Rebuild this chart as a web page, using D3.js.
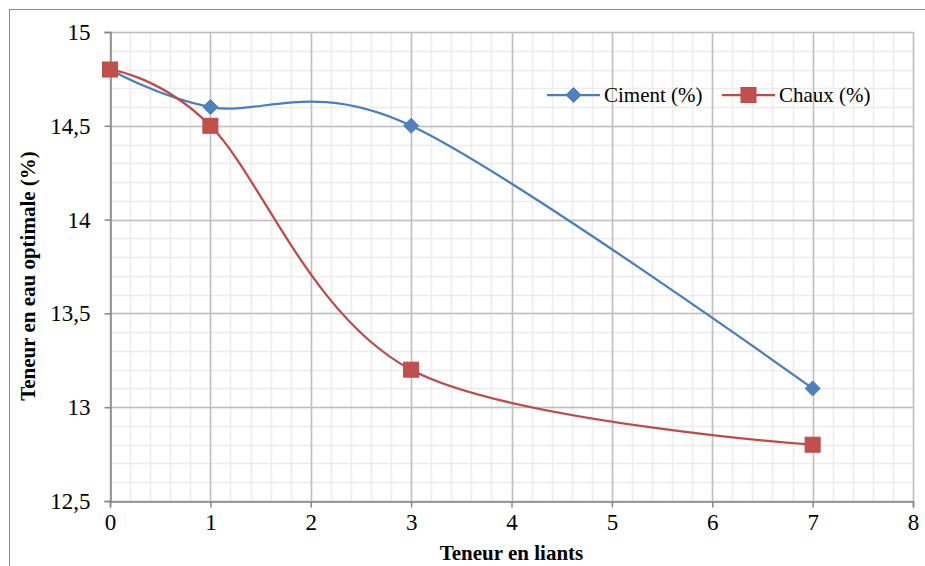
<!DOCTYPE html>
<html>
<head>
<meta charset="utf-8">
<script src="https://cdn.jsdelivr.net/npm/d3@7"></script>
<style>
  html, body { margin: 0; padding: 0; background: #fff; }
  svg { display: block; }
  svg text { font-family: "Times New Roman", "Liberation Serif", Times, serif; fill: #000; }
</style>
</head>
<body>
<svg id="chart" width="925" height="566"></svg>
<script>
// Binder content (x) and optimum water content (y)
const liants = [0, 1, 3, 7];
const ciment = [14.8, 14.6, 14.5, 13.1];
const chaux  = [14.8, 14.5, 13.2, 12.8];
const xTicks = [0, 1, 2, 3, 4, 5, 6, 7, 8];
const yTicks = [12.5, 13, 13.5, 14, 14.5, 15];
const seriesNames = ["Ciment (%)", "Chaux (%)"];

const SERIF = "\"Times New Roman\", \"Liberation Serif\", Times, serif";
const svg = d3.select("#chart");
const W = 925, H = 566;
const m = { left: 110, right: 12, top: 32, bottom: 65 };

const x = d3.scaleLinear().domain([0, 8]).range([m.left, W - m.right]);
const y = d3.scaleLinear().domain([12.5, 15]).range([H - m.bottom, m.top]);

// Outer chart frame
svg.append("rect")
  .attr("x", 9.5).attr("y", 9.5)
  .attr("width", W).attr("height", H)
  .attr("fill", "none").attr("stroke", "#8c8c8c").attr("stroke-width", 1);

const fmt = d => String(d).replace(".", ",");

// Minor grid
const gMinor = svg.append("g");
gMinor.selectAll("line.vx")
  .data(d3.range(0, 8.0001, 0.2))
  .join("line")
  .attr("x1", d => Math.round(x(d)) + 0.5).attr("x2", d => Math.round(x(d)) + 0.5)
  .attr("y1", y(12.5)).attr("y2", y(15))
  .attr("stroke", "#ececec").attr("stroke-width", 1.5);
gMinor.selectAll("line.hy")
  .data(d3.range(12.5, 15.0001, 0.1))
  .join("line")
  .attr("y1", d => Math.round(y(d)) + 0.5).attr("y2", d => Math.round(y(d)) + 0.5)
  .attr("x1", x(0)).attr("x2", x(8))
  .attr("stroke", "#ececec").attr("stroke-width", 1.5);

// Major grid
const gMajor = svg.append("g");
gMajor.selectAll("line.vx")
  .data(xTicks)
  .join("line")
  .attr("x1", d => Math.round(x(d)) + 0.5).attr("x2", d => Math.round(x(d)) + 0.5)
  .attr("y1", y(12.5)).attr("y2", y(15))
  .attr("stroke", "#bfbfbf").attr("stroke-width", 1.5);
gMajor.selectAll("line.hy")
  .data(yTicks)
  .join("line")
  .attr("y1", d => Math.round(y(d)) + 0.5).attr("y2", d => Math.round(y(d)) + 0.5)
  .attr("x1", x(0)).attr("x2", x(8))
  .attr("stroke", "#bfbfbf").attr("stroke-width", 1.5);

// Axes
const xAxis = svg.append("g")
  .attr("transform", `translate(0,${Math.round(y(12.5)) + 0.5})`)
  .call(d3.axisBottom(x).tickValues(xTicks).tickFormat(fmt).tickSize(6).tickPadding(6));
const yAxis = svg.append("g")
  .attr("transform", `translate(${Math.round(x(0)) + 0.5},0)`)
  .call(d3.axisLeft(y).tickValues(yTicks).tickFormat(fmt).tickSize(6).tickPadding(14));
[xAxis, yAxis].forEach(g => {
  g.attr("font-family", SERIF).attr("font-size", 23);
  g.select(".domain").attr("stroke", "#868686").attr("stroke-width", 1.5);
  g.selectAll(".tick line").attr("stroke", "#868686").attr("stroke-width", 1.5);
  g.selectAll(".tick text").attr("fill", "#000");
});
yAxis.selectAll(".tick text").attr("dy", "0.33em");

// Axis titles
svg.append("text")
  .attr("x", (x(0) + x(8)) / 2).attr("y", 560)
  .attr("text-anchor", "middle")
  .attr("font-family", SERIF)
  .attr("font-weight", "bold").attr("font-size", 21)
  .text("Teneur en liants");
svg.append("text")
  .attr("transform", `translate(35,${276}) rotate(-90)`)
  .attr("text-anchor", "middle")
  .attr("font-family", SERIF)
  .attr("font-weight", "bold").attr("font-size", 21)
  .text("Teneur en eau optimale (%)");

// Smoothed series lines
const line = d3.line()
  .x(d => x(d[0])).y(d => y(d[1]))
  .curve(d3.curveCardinal.tension(0));

const series = [
  { name: seriesNames[0], values: ciment, stroke: "#4a7ebb", fill: "#4f81bd", shape: "diamond" },
  { name: seriesNames[1], values: chaux,  stroke: "#be4b48", fill: "#c0504d", shape: "square" }
];

function marker(g, shape, fill, stroke) {
  if (shape === "diamond") {
    g.append("path").attr("d", "M0,-7.5L7.5,0L0,7.5L-7.5,0Z")
      .attr("fill", fill).attr("stroke", stroke).attr("stroke-width", 1);
  } else {
    g.append("rect").attr("x", -7.5).attr("y", -7.5).attr("width", 15).attr("height", 15)
      .attr("fill", fill).attr("stroke", stroke).attr("stroke-width", 1);
  }
}

series.forEach(s => {
  const pts = liants.map((v, i) => [v, s.values[i]]);
  svg.append("path")
    .attr("d", line(pts))
    .attr("fill", "none").attr("stroke", s.stroke).attr("stroke-width", 2.25);
});
series.forEach(s => {
  liants.forEach((v, i) => {
    const g = svg.append("g").attr("transform", `translate(${x(v)},${y(s.values[i])})`);
    marker(g, s.shape, s.fill, s.stroke);
  });
});

// Legend
const legendItems = [
  { s: series[0], x0: 547 },
  { s: series[1], x0: 722 }
];
legendItems.forEach(({ s, x0 }) => {
  const g = svg.append("g").attr("transform", `translate(${x0},95)`);
  g.append("line").attr("x1", 0).attr("x2", 53).attr("y1", 0).attr("y2", 0)
    .attr("stroke", s.stroke).attr("stroke-width", 2.25);
  const mg = g.append("g").attr("transform", "translate(26.5,0)");
  marker(mg, s.shape, s.fill, s.stroke);
  g.append("text").attr("x", 57).attr("y", 0).attr("dy", "0.35em")
    .attr("font-family", SERIF).attr("font-size", 21).text(s.name);
});
</script>
</body>
</html>
